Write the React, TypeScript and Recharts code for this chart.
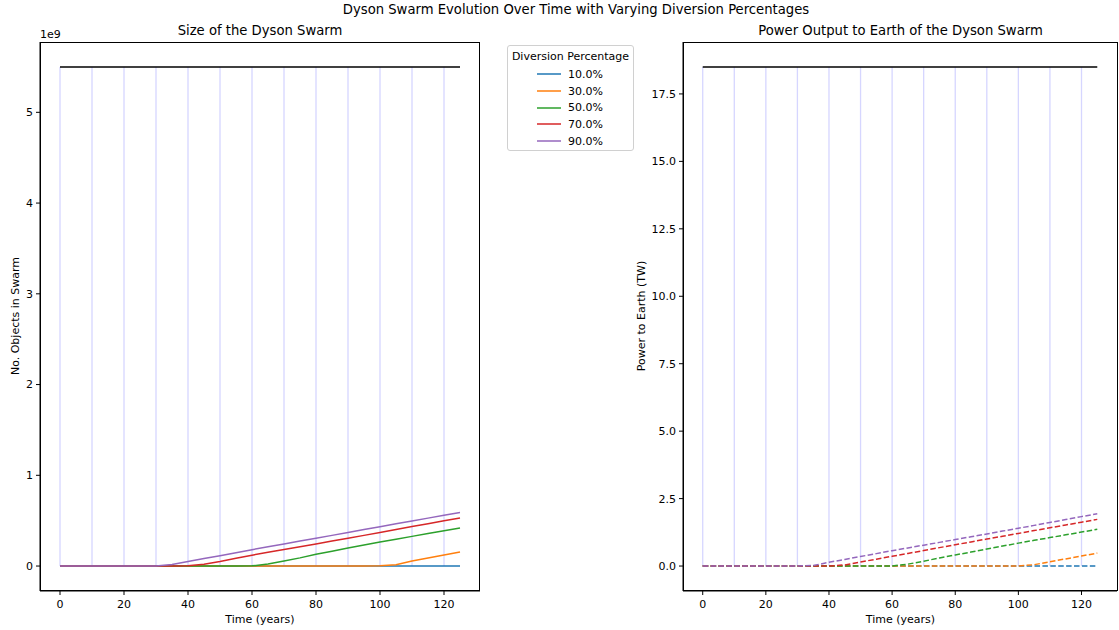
import React from "react";
import { LineChart, Line, XAxis, YAxis, ReferenceLine } from "recharts";

const years = [0, 5, 10, 15, 20, 25, 30, 35, 40, 45, 50, 55, 60, 65, 70, 75, 80, 85, 90, 95, 100, 105, 110, 115, 120, 125];
const diversions = ["10.0%", "30.0%", "50.0%", "70.0%", "90.0%"];
const colors = ["#1f77b4", "#ff7f0e", "#2ca02c", "#d62728", "#9467bd"];

// swarm size, in units of 1e9 objects
const size10 = [0, 0, 0, 0, 0, 0, 0, 0, 0, 0, 0, 0, 0, 0, 0, 0, 0, 0, 0, 0, 0, 0, 0, 0, 0, 0];
const size30 = [0, 0, 0, 0, 0, 0, 0, 0, 0, 0, 0, 0, 0, 0, 0, 0, 0, 0, 0, 0, 0.002, 0.015, 0.055, 0.089, 0.122, 0.155];
const size50 = [0, 0, 0, 0, 0, 0, 0, 0, 0, 0, 0, 0, 0.002, 0.022, 0.055, 0.09, 0.13, 0.164, 0.198, 0.232, 0.265, 0.296, 0.327, 0.358, 0.389, 0.42];
const size70 = [0, 0, 0, 0, 0, 0, 0, 0, 0.002, 0.02, 0.05, 0.085, 0.12, 0.151, 0.182, 0.212, 0.243, 0.275, 0.307, 0.338, 0.37, 0.402, 0.435, 0.467, 0.498, 0.53];
const size90 = [0, 0, 0, 0, 0, 0, 0, 0.016, 0.05, 0.082, 0.114, 0.146, 0.18, 0.212, 0.244, 0.275, 0.306, 0.338, 0.37, 0.402, 0.434, 0.465, 0.497, 0.528, 0.56, 0.59];

// power to earth, TW
const power10 = [0, 0, 0, 0, 0, 0, 0, 0, 0, 0, 0, 0, 0, 0, 0, 0, 0, 0, 0, 0, 0, 0, 0, 0, 0, 0];
const power30 = [0, 0, 0, 0, 0, 0, 0, 0, 0, 0, 0, 0, 0, 0, 0, 0, 0, 0, 0, 0, 0, 0.05, 0.16, 0.265, 0.372, 0.48];
const power50 = [0, 0, 0, 0, 0, 0, 0, 0, 0, 0, 0, 0, 0, 0.07, 0.18, 0.3, 0.41, 0.52, 0.63, 0.74, 0.85, 0.952, 1.054, 1.156, 1.258, 1.36];
const power70 = [0, 0, 0, 0, 0, 0, 0, 0, 0, 0.04, 0.15, 0.255, 0.36, 0.468, 0.575, 0.683, 0.79, 0.895, 1.0, 1.105, 1.21, 1.314, 1.418, 1.522, 1.626, 1.73];
const power90 = [0, 0, 0, 0, 0, 0, 0, 0.02, 0.14, 0.245, 0.355, 0.46, 0.57, 0.672, 0.775, 0.877, 0.98, 1.085, 1.19, 1.295, 1.4, 1.508, 1.616, 1.724, 1.832, 1.94];

const markerYears = [0, 10, 20, 30, 40, 50, 60, 70, 80, 90, 100, 110, 120];
const maxSwarm = 5.5;
const maxPower = 18.5;
const lastYear = 125;

const xTicks = [0, 20, 40, 60, 80, 100, 120];
const sizeTicks = [0, 1, 2, 3, 4, 5];
const powerTicks = [0, 2.5, 5, 7.5, 10, 12.5, 15, 17.5];

const sizeSeries = [size10, size30, size50, size70, size90];
const powerSeries = [power10, power30, power50, power70, power90];

const sizeData = years.map((year, i) => {
  const row: Record<string, number> = { year };
  sizeSeries.forEach((s, k) => (row["s" + k] = s[i]));
  return row;
});
const powerData = years.map((year, i) => {
  const row: Record<string, number> = { year };
  powerSeries.forEach((s, k) => (row["s" + k] = s[i]));
  return row;
});

const FONT = "'DejaVu Sans', sans-serif";
const tickStyle = { fontSize: 11, fill: "#000", fontFamily: FONT };

const text = (s: React.CSSProperties): React.CSSProperties => ({
  position: "absolute",
  fontFamily: FONT,
  color: "#000",
  whiteSpace: "nowrap",
  ...s,
});

function Panel({
  data,
  top,
  yTicks,
  yWidth,
  width,
  dashed,
  fmt,
}: {
  data: Record<string, number>[];
  top: number;
  yTicks: number[];
  yWidth: number;
  width: number;
  dashed: boolean;
  fmt: (v: number) => string;
}) {
  const pad = top * 0.05;
  return (
    <LineChart width={width} height={630} data={data} margin={{ top: 42, right: 2, bottom: 0, left: 0 }}>
      <XAxis
        dataKey="year"
        type="number"
        domain={[-6.25, 131.25]}
        ticks={xTicks}
        interval={0}
        tick={tickStyle}
        tickSize={4}
        tickMargin={5}
        height={39}
        axisLine={{ stroke: "#000" }}
        tickLine={{ stroke: "#000" }}
        allowDataOverflow
      />
      <YAxis
        type="number"
        domain={[-pad, top + pad]}
        ticks={yTicks}
        interval={0}
        tickFormatter={fmt}
        tick={tickStyle}
        tickSize={4}
        tickMargin={3}
        width={yWidth}
        axisLine={{ stroke: "#000" }}
        tickLine={{ stroke: "#000" }}
        allowDataOverflow
      />
      {markerYears.map((yr) => (
        <ReferenceLine
          key={yr}
          segment={[
            { x: yr, y: 0 },
            { x: yr, y: top },
          ]}
          stroke="#d6d6ff"
          strokeWidth={1.3}
        />
      ))}
      <ReferenceLine
        segment={[
          { x: 0, y: top },
          { x: lastYear, y: top },
        ]}
        stroke="#000"
        strokeWidth={1.5}
      />
      {colors.map((c, k) => (
        <Line
          key={k}
          dataKey={"s" + k}
          type="linear"
          stroke={c}
          strokeWidth={1.5}
          strokeDasharray={dashed ? "5.5 2.4" : undefined}
          dot={false}
          activeDot={false}
          isAnimationActive={false}
        />
      ))}
    </LineChart>
  );
}

export default function App() {
  return (
    <div style={{ position: "absolute", left: 0, top: 0, width: 1119, height: 630, background: "#fff", overflow: "hidden" }}>
      <div style={text({ left: 0, width: 1152, top: 2, fontSize: 13.2, textAlign: "center" })}>
        Dyson Swarm Evolution Over Time with Varying Diversion Percentages
      </div>

      <div style={{ position: "absolute", left: 0, top: 0 }}>
        <Panel data={sizeData} top={maxSwarm} yTicks={sizeTicks} yWidth={40} width={482} dashed={false} fmt={(v) => String(v)} />
      </div>
      <div style={{ position: "absolute", left: 40, top: 42, width: 440, height: 549, border: "1px solid #000", boxSizing: "border-box", pointerEvents: "none" }} />
      <div style={text({ left: 40, width: 440, top: 23, fontSize: 13.2, textAlign: "center" })}>Size of the Dyson Swarm</div>
      <div style={text({ left: 40, top: 28, fontSize: 11 })}>1e9</div>
      <div style={text({ left: 40, width: 440, top: 613, fontSize: 11, textAlign: "center" })}>Time (years)</div>
      <div style={text({ left: 15, top: 316, fontSize: 11, transform: "translate(-50%, -50%) rotate(-90deg)" })}>No. Objects in Swarm</div>

      <div style={{ position: "absolute", left: 633, top: 0 }}>
        <Panel data={powerData} top={maxPower} yTicks={powerTicks} yWidth={50} width={486} dashed={true} fmt={(v) => v.toFixed(1)} />
      </div>
      <div style={{ position: "absolute", left: 683, top: 42, width: 435, height: 549, border: "1px solid #000", boxSizing: "border-box", pointerEvents: "none" }} />
      <div style={text({ left: 683, width: 435, top: 23, fontSize: 13.2, textAlign: "center" })}>Power Output to Earth of the Dyson Swarm</div>
      <div style={text({ left: 683, width: 435, top: 613, fontSize: 11, textAlign: "center" })}>Time (years)</div>
      <div style={text({ left: 641, top: 316, fontSize: 11, transform: "translate(-50%, -50%) rotate(-90deg)" })}>Power to Earth (TW)</div>

      <div
        style={{
          position: "absolute",
          left: 507,
          top: 45,
          width: 127,
          height: 106,
          border: "1px solid #d0d0d0",
          borderRadius: 3,
          boxSizing: "border-box",
          fontFamily: FONT,
          fontSize: 11,
        }}
      >
        <div style={{ textAlign: "center", marginTop: 4, height: 16 }}>Diversion Percentage</div>
        {diversions.map((d, k) => (
          <div key={d} style={{ display: "flex", alignItems: "center", height: 16.7, marginLeft: 29 }}>
            <svg width={24} height={4} style={{ marginRight: 7 }}>
              <line x1={0} y1={2} x2={24} y2={2} stroke={colors[k]} strokeWidth={1.5} />
            </svg>
            <span>{d}</span>
          </div>
        ))}
      </div>
    </div>
  );
}
